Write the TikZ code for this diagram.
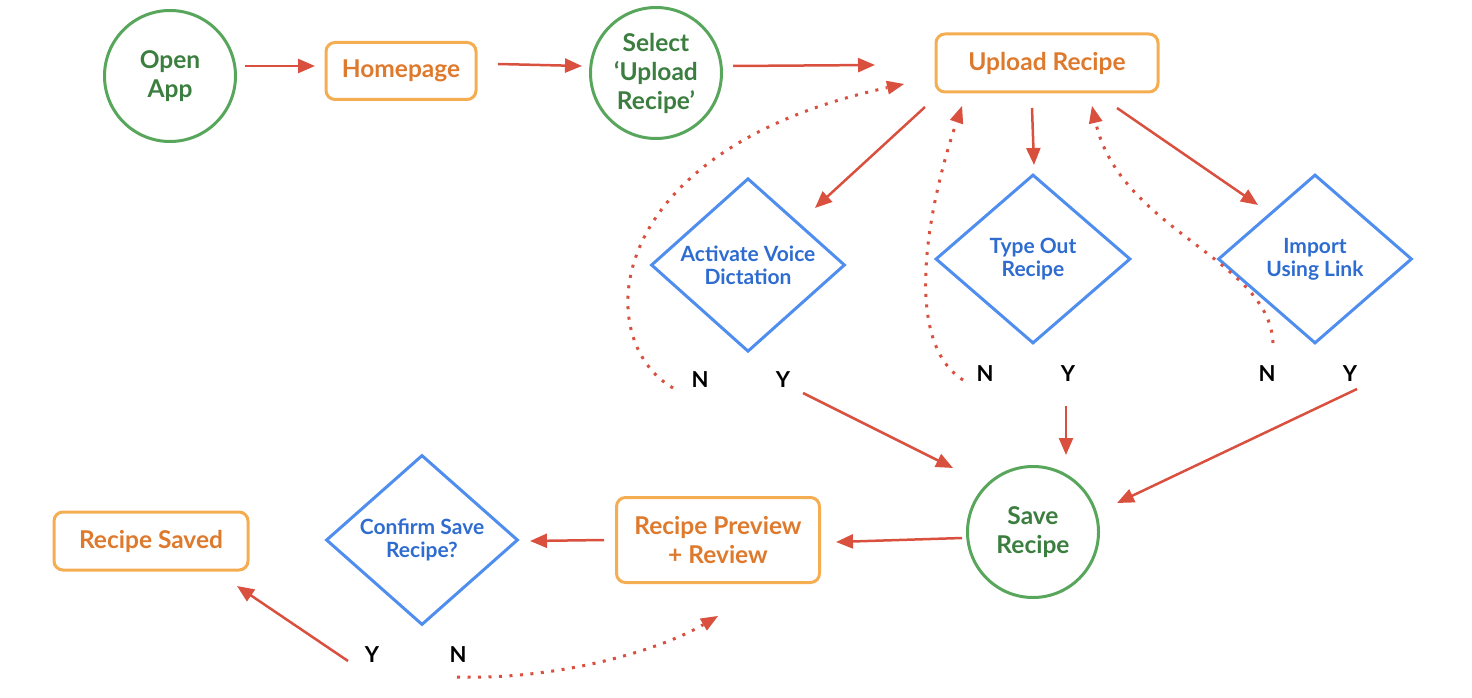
\documentclass[tikz,border=0pt]{standalone}
\usepackage{fontspec}
\setmainfont{Lato}
\usetikzlibrary{shapes.geometric,arrows.meta}
\definecolor{gstroke}{HTML}{58A65C}
\definecolor{gtext}{HTML}{3B7E3F}
\definecolor{ostroke}{HTML}{F5AD52}
\definecolor{otext}{HTML}{DE7A2E}
\definecolor{bstroke}{HTML}{4F8EEF}
\definecolor{btext}{HTML}{2F6CD0}
\definecolor{ared}{HTML}{D9503F}
\tikzset{
  circ/.style={circle,draw=gstroke,line width=3pt,minimum size=131pt,inner sep=0pt,
    text=gtext,font=\fontsize{24.5}{29}\selectfont\bfseries,align=center},
  obox/.style={rectangle,rounded corners=9pt,draw=ostroke,line width=3pt,inner sep=0pt,
    text=otext,font=\fontsize{24.5}{29}\selectfont\bfseries,align=center},
  dia/.style={diamond,draw=bstroke,line width=3pt,inner sep=0pt,
    text=btext,font=\fontsize{21}{23}\selectfont\bfseries,align=center},
  yn/.style={font=\fontsize{22}{24}\selectfont\bfseries,text=black,inner sep=0pt},
  arr/.style={draw=ared,line width=2.5pt,-{Triangle[length=17pt,width=14pt]}},
  darr/.style={draw=ared,line width=3pt,dash pattern=on 3pt off 7.5pt,
    -{Triangle[length=17pt,width=14pt,line width=0pt]}},
}
\begin{document}
\begin{tikzpicture}[x=1pt,y=-1pt]
\useasboundingbox (0,0) rectangle (1472,698);
% nodes
\node[circ] (open) at (170,76) {Open\\App};
\node[obox,minimum width=150pt,minimum height=57pt] (home) at (401,71) {Homepage};
\node[circ] (select) at (656,73) {Select\\‘Upload\\Recipe’};
\node[obox,minimum width=222pt,minimum height=58pt] (upload) at (1047,63) {Upload Recipe};
\node[dia,minimum width=194pt,minimum height=170pt] (voice) at (748,265) {Activate Voice\\Dictation};
\node[dia,minimum width=195pt,minimum height=169pt] (type) at (1033,259) {Type Out\\Recipe};
\node[dia,minimum width=194pt,minimum height=169pt] (import) at (1315,259) {Import\\Using Link};
\node[yn] (vN) at (700,380) {N};
\node[yn] (vY) at (783,380) {Y};
\node[yn] (tN) at (985,374) {N};
\node[yn] (tY) at (1068,374) {Y};
\node[yn] (iN) at (1267,374) {N};
\node[yn] (iY) at (1350,374) {Y};
\node[circ] (save) at (1033,532) {Save\\Recipe};
\node[obox,minimum width=203pt,minimum height=85pt] (preview) at (718,540) {Recipe Preview\\+ Review};
\node[dia,minimum width=192pt,minimum height=170pt] (confirm) at (422,540) {Confirm Save\\Recipe?};
\node[obox,minimum width=194pt,minimum height=58pt] (saved) at (151,541) {Recipe Saved};
\node[yn] (cY) at (372,655) {Y};
\node[yn] (cN) at (458,655) {N};
% connector end points
\coordinate (a1s) at (245,66); \coordinate (a1e) at (315,66);
\coordinate (a2s) at (498,64); \coordinate (a2e) at (582,66);
\coordinate (a3s) at (733,66); \coordinate (a3e) at (875,65);
\coordinate (a4s) at (925,107); \coordinate (a4e) at (815,208);
\coordinate (a5s) at (1032,108); \coordinate (a5e) at (1034,165);
\coordinate (a6s) at (1117,108); \coordinate (a6e) at (1258,205);
\coordinate (a7s) at (803,393); \coordinate (a7e) at (953,468);
\coordinate (a8s) at (1066,406); \coordinate (a8e) at (1066,455);
\coordinate (a9s) at (1357,389); \coordinate (a9e) at (1117,503);
\coordinate (a10s) at (962,538); \coordinate (a10e) at (836,542);
\coordinate (a11s) at (604,540); \coordinate (a11e) at (530,541);
\coordinate (a12s) at (348,661); \coordinate (a12e) at (237,586);
\coordinate (d1s) at (673,388); \coordinate (d1e) at (904,84);
\coordinate (d2s) at (963,380); \coordinate (d2e) at (962,106);
\coordinate (d3s) at (1273,343); \coordinate (d3e) at (1092,106);
\coordinate (d4s) at (457,677); \coordinate (d4e) at (718,616);
% solid arrows
\draw[arr] (a1s) -- (a1e);
\draw[arr] (a2s) -- (a2e);
\draw[arr] (a3s) -- (a3e);
\draw[arr] (a4s) -- (a4e);
\draw[arr] (a5s) -- (a5e);
\draw[arr] (a6s) -- (a6e);
\draw[arr] (a7s) -- (a7e);
\draw[arr] (a8s) -- (a8e);
\draw[arr] (a9s) -- (a9e);
\draw[arr] (a10s) -- (a10e);
\draw[arr] (a11s) -- (a11e);
\draw[arr] (a12s) -- (a12e);
% dotted return arrows
\draw[darr] (d1s) .. controls (590,340) and (600,150) .. (d1e);
\draw[darr] (d2s) .. controls (900,340) and (930,200) .. (d2e);
\draw[darr] (d3s) .. controls (1270,260) and (1120,230) .. (d3e);
\draw[darr] (d4s) .. controls (560,680) and (660,650) .. (d4e);
\end{tikzpicture}
\end{document}
